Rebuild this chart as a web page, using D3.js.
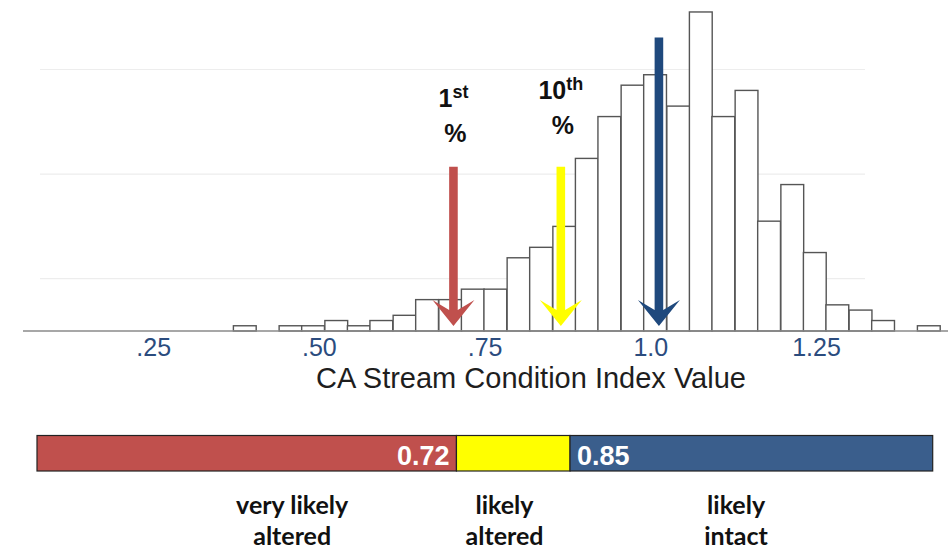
<!DOCTYPE html>
<html>
<head>
<meta charset="utf-8">
<title>CA Stream Condition Index</title>
<script src="https://cdn.jsdelivr.net/npm/d3@7"></script>
<style>
    body { margin: 0; background: #fff; }
    svg { display: block; }
    .axis-label text { font-family: "Liberation Sans", Arial, sans-serif; font-size: 25px; fill: #2b4c7e; }
    .axis-title { font-family: "Liberation Sans", Arial, sans-serif; font-size: 29px; fill: #1e1e1e; }
    .pct-label { font-family: "Liberation Sans", Arial, sans-serif; font-weight: bold; font-size: 25px; fill: #111; }
    .break-label { font-family: "Liberation Sans", Arial, sans-serif; font-weight: bold; font-size: 27px; fill: #fff; }
    .class-label { font-family: Lato, "Open Sans", sans-serif; font-weight: bold; font-size: 25px; fill: #111; }
</style>
</head>
<body>
<div id="chart-area"></div>
<script>

// histogram of index values: lower edge of each bin and its count
var binEdges = [0.371, 0.405, 0.440, 0.474, 0.509, 0.543, 0.577, 0.612, 0.646, 0.681,
    0.715, 0.749, 0.784, 0.818, 0.853, 0.887, 0.921, 0.956, 0.990, 1.025,
    1.059, 1.093, 1.128, 1.162, 1.197, 1.231, 1.265, 1.300, 1.334, 1.369, 1.403];
var binWidth = 0.0344;
var binCounts = [1, 0, 1, 1, 2, 1, 2, 3, 6, 6,
    8, 8, 14, 16, 20, 33, 41, 47, 49, 43,
    61, 41, 46, 21, 28, 15, 5, 4, 2, 0, 1];

// x axis
var tickValues = [0.25, 0.50, 0.75, 1.0, 1.25];
var tickLabels = [".25", ".50", ".75", "1.0", "1.25"];
var gridCounts = [10, 30, 50];

// arrows (value on the index axis, top of the shaft in counts)
var arrowValues = [0.703, 0.865, 1.013];
var arrowTops = [31.4, 31.4, 56.1];
var arrowNums = ["1", "10", null];
var arrowSups = ["st", "th", null];

// condition classes for the bar underneath
var classBreaks = [0.24, 0.72, 0.85, 1.265];
var breakLabels = ["0.72", "0.85"];
var classNames = [["very likely", "altered"], ["likely", "altered"], ["likely", "intact"]];


ConditionChart = function(_parentElement){
    this.parentElement = _parentElement;
    this.initVis();
}

ConditionChart.prototype.initVis = function() {
    var vis = this;

    vis.width = 948;
    vis.height = 551;

    vis.svg = d3.select("#" + vis.parentElement).append("svg")
        .attr("width", vis.width)
        .attr("height", vis.height);

    vis.x = d3.scaleLinear()
        .domain([0.25, 1.25])
        .range([153.2, 816]);

    vis.y = d3.scaleLinear()
        .domain([0, 60])
        .range([331, 17.2]);

    // the class bar has its own span
    vis.xBar = d3.scaleLinear()
        .domain([classBreaks[0], classBreaks[classBreaks.length - 1]])
        .range([37, 932.7]);

    vis.arrowColors = ["#c0504d", "#ffff00", "#1f497d"];
    vis.classColors = ["#c0504d", "#ffff00", "#3a5e8c"];

    vis.updateVis();
};

ConditionChart.prototype.arrowPath = function(cx, top, tip) {
    var hw = 4.3, hh = 21, headLen = 26, notch = 16;
    return "M" + (cx - hw) + "," + top +
        "L" + (cx + hw) + "," + top +
        "L" + (cx + hw) + "," + (tip - notch) +
        "L" + (cx + hh) + "," + (tip - headLen) +
        "L" + cx + "," + tip +
        "L" + (cx - hh) + "," + (tip - headLen) +
        "L" + (cx - hw) + "," + (tip - notch) + "Z";
};

ConditionChart.prototype.updateVis = function() {
    var vis = this;

    // faint grid
    vis.svg.append("g").selectAll("line")
        .data(gridCounts)
        .enter().append("line")
        .attr("x1", 40)
        .attr("x2", 865)
        .attr("y1", function(d) { return vis.y(d); })
        .attr("y2", function(d) { return vis.y(d); })
        .attr("stroke", "#ededed")
        .attr("stroke-width", 1.2);

    // bins (empty ones are not drawn)
    var bins = binCounts.map(function(c, i) {
        return {x0: binEdges[i], x1: binEdges[i] + binWidth, count: c};
    }).filter(function(d) { return d.count > 0; });

    vis.svg.append("g").selectAll("rect")
        .data(bins)
        .enter().append("rect")
        .attr("x", function(d) { return vis.x(d.x0); })
        .attr("width", function(d) { return vis.x(d.x1) - vis.x(d.x0); })
        .attr("y", function(d) { return vis.y(d.count); })
        .attr("height", function(d) { return vis.y(0) - vis.y(d.count); })
        .attr("fill", "#fff")
        .attr("stroke", "#555")
        .attr("stroke-width", 1.4);

    // baseline
    vis.svg.append("line")
        .attr("x1", 23)
        .attr("x2", vis.width)
        .attr("y1", vis.y(0))
        .attr("y2", vis.y(0))
        .attr("stroke", "#8a8a8a")
        .attr("stroke-width", 1.4);

    vis.xAxis = d3.axisBottom(vis.x)
        .tickValues(tickValues)
        .tickFormat(function(d, i) { return tickLabels[i]; })
        .tickSize(0)
        .tickPadding(7);

    vis.svg.append("g")
        .attr("class", "axis-label")
        .attr("transform", "translate(0," + vis.y(0) + ")")
        .call(vis.xAxis)
        .call(function(g) { g.select(".domain").remove(); })
        .selectAll("text")
        .attr("font-family", null)
        .attr("font-size", null)
        .attr("fill", null);

    vis.svg.append("text")
        .attr("class", "axis-title")
        .attr("x", 531)
        .attr("y", 388)
        .attr("text-anchor", "middle")
        .text("CA Stream Condition Index Value");

    // arrows
    vis.svg.append("g").selectAll("path")
        .data(arrowValues)
        .enter().append("path")
        .attr("d", function(d, i) {
            return vis.arrowPath(vis.x(d), vis.y(arrowTops[i]), vis.y(0) - 5);
        })
        .attr("fill", function(d, i) { return vis.arrowColors[i]; });

    // "1st %" / "10th %"
    var labelLift = [60, 68];
    arrowValues.forEach(function(v, i) {
        if (!arrowNums[i]) return;
        var cx = vis.x(v), top = vis.y(arrowTops[i]);
        var t = vis.svg.append("text")
            .attr("class", "pct-label")
            .attr("x", cx)
            .attr("y", top - labelLift[i])
            .attr("text-anchor", "middle");
        t.append("tspan").text(arrowNums[i]);
        t.append("tspan")
            .attr("font-size", 18)
            .attr("dy", -9)
            .text(arrowSups[i]);

        vis.svg.append("text")
            .attr("class", "pct-label")
            .attr("x", cx + 2)
            .attr("y", top - labelLift[i] + 35)
            .attr("text-anchor", "middle")
            .text("%");
    });

    // class bar
    var segments = d3.pairs(classBreaks);
    vis.svg.append("g").selectAll("rect")
        .data(segments)
        .enter().append("rect")
        .attr("x", function(d) { return vis.xBar(d[0]); })
        .attr("width", function(d) { return vis.xBar(d[1]) - vis.xBar(d[0]); })
        .attr("y", 435.5)
        .attr("height", 35.5)
        .attr("fill", function(d, i) { return vis.classColors[i]; })
        .attr("stroke", "#222")
        .attr("stroke-width", 1.2);

    vis.svg.append("text")
        .attr("class", "break-label")
        .attr("x", vis.xBar(classBreaks[1]) - 7)
        .attr("y", 464.5)
        .attr("text-anchor", "end")
        .text(breakLabels[0]);

    vis.svg.append("text")
        .attr("class", "break-label")
        .attr("x", vis.xBar(classBreaks[2]) + 7)
        .attr("y", 464.5)
        .attr("text-anchor", "start")
        .text(breakLabels[1]);

    // class names under the bar
    var nameAt = [0.532, 0.775, 1.04];
    classNames.forEach(function(lines, i) {
        lines.forEach(function(s, j) {
            vis.svg.append("text")
                .attr("class", "class-label")
                .attr("x", vis.xBar(nameAt[i]))
                .attr("y", 514 + j * 31)
                .attr("text-anchor", "middle")
                .text(s);
        });
    });
};

var chart = new ConditionChart("chart-area");

</script>
</body>
</html>
